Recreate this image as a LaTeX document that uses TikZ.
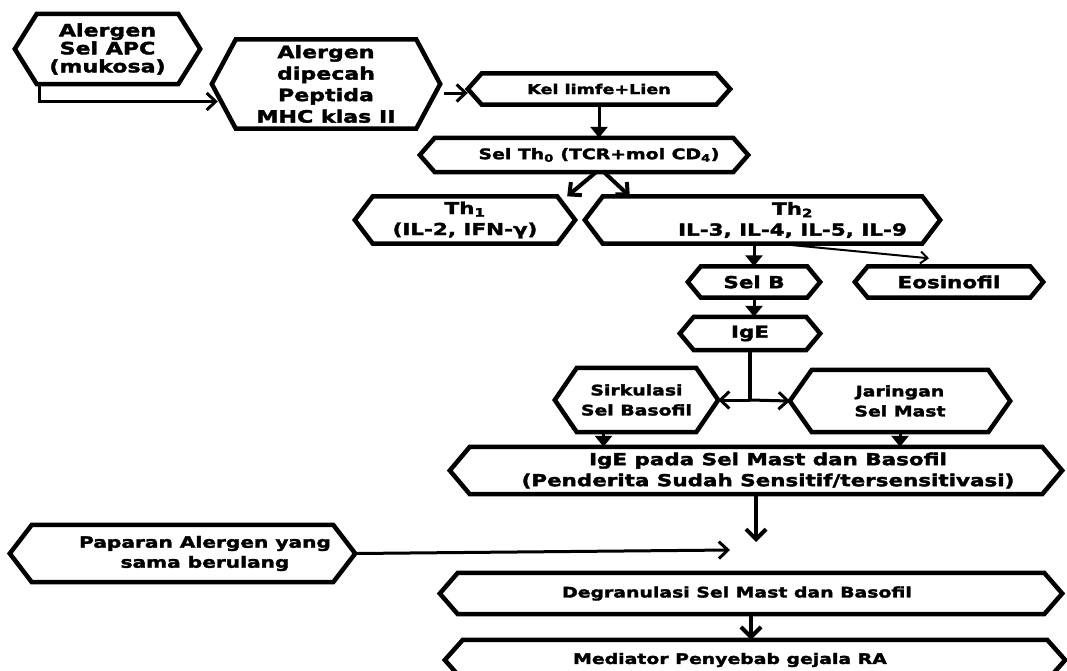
\documentclass[tikz,border=0pt]{standalone}
\usepackage{fontspec}
\setmainfont{DejaVu Sans}[FakeStretch=1.3, BoldFeatures={FakeBold=2.2}]
\usetikzlibrary{arrows.meta,calc}
\tikzset{
  box/.style={draw=none, align=center, inner sep=0pt, font=\fontsize{14.5}{20}\selectfont\bfseries},
  mid/.style={font=\fontsize{16.5}{21}\selectfont\bfseries},
  small/.style={font=\fontsize{13.5}{20}\selectfont\bfseries},
  hexline/.style={line width=4.5pt, line join=miter},
  tri/.style={line width=3pt, -{Triangle[length=11pt,width=17pt]}},
  vee/.style={line width=4pt, -{Straight Barb[length=10pt,width=20pt]}},
  opn/.style={line width=3pt, -{Straight Barb[length=9pt,width=17pt]}},
  thinopn/.style={line width=2pt, -{Straight Barb[length=7pt,width=12pt]}},
}
\newcommand\hexa[2]{\draw[hexline] (#1.west) -- ([xshift=#2pt]#1.north west) -- ([xshift=-#2pt]#1.north east) -- (#1.east) -- ([xshift=-#2pt]#1.south east) -- ([xshift=#2pt]#1.south west) -- cycle;}
\begin{document}
\begin{tikzpicture}[x=1pt,y=-1pt]
\useasboundingbox (0,0) rectangle (1067,670);
\fill[white] (0,0) rectangle (1067,670);
\clip (0,0) rectangle (1067,670);

\node[box, font=\fontsize{17}{18}\selectfont\bfseries, minimum width=185pt, minimum height=70pt] (n1) at (107.5,49) {Alergen\\Sel APC\\(mukosa)};
\node[box, font=\fontsize{17}{21.5}\selectfont\bfseries, minimum width=228pt, minimum height=89pt] (n2) at (326,84) {Alergen\\dipecah\\Peptida\\MHC klas II};
\node[box, small, minimum width=262pt, minimum height=31pt] (n3) at (599,89) {Kel limfe+Lien};
\node[box, minimum width=328pt, minimum height=34pt] (n4) at (584,155) {\hspace*{30pt}Sel Th\textsubscript{0} (TCR+mol CD\textsubscript{4})};
\node[box, mid, minimum width=220pt, minimum height=47pt] (n5) at (465,220) {Th\textsubscript{1}\\(IL-2, IFN-γ)};
\node[box, mid, minimum width=355pt, minimum height=47pt] (n6) at (762.5,220) {\hspace*{60pt}Th\textsubscript{2}\\\hspace*{60pt}IL-3, IL-4, IL-5, IL-9};
\node[box, mid, minimum width=132pt, minimum height=31pt] (n7) at (754,282) {Sel B};
\node[box, mid, minimum width=188pt, minimum height=31pt] (n8) at (949,282) {Eosinofil};
\node[box, mid, minimum width=140pt, minimum height=33pt] (n9) at (750,333.5) {IgE};
\node[box, minimum width=163pt, minimum height=64pt] (n10) at (636.5,400) {Sirkulasi\\Sel Basofil};
\node[box, minimum width=220pt, minimum height=62pt] (n11) at (900,401) {Jaringan\\Sel Mast};
\node[box, mid, minimum width=612pt, minimum height=47pt] (n12) at (756,470.5) {\hspace*{24pt}IgE pada Sel Mast dan Basofil\\\hspace*{24pt}(Penderita Sudah Sensitif/tersensitivasi)};
\node[box, font=\fontsize{15.5}{20}\selectfont\bfseries, minimum width=345pt, minimum height=57pt] (n13) at (182.5,553.5) {\hspace*{45pt}Paparan Alergen yang\\\hspace*{45pt}sama berulang};
\node[box, minimum width=622pt, minimum height=41pt] (n14) at (751,593.5) {Degranulasi Sel Mast dan Basofil\hspace*{28pt}};
\node[box, minimum width=620pt, minimum height=40pt] (n15) at (755,660) {Mediator Penyebab gejala RA\hspace*{50pt}};

\hexa{n1}{22}
\hexa{n2}{24}
\hexa{n3}{14}
\hexa{n4}{15}
\hexa{n5}{18}
\hexa{n6}{18}
\hexa{n7}{13}
\hexa{n8}{13}
\hexa{n9}{14}
\hexa{n10}{22}
\hexa{n11}{22}
\hexa{n12}{20}
\hexa{n13}{22}
\hexa{n14}{18}
\hexa{n15}{18}

\draw[opn] ([xshift=25pt]n1.south west) |- ([xshift=6pt,yshift=-17.5pt]n2.west);
\path (n2.east |- n3.west) coordinate (a23);
\draw[opn] ([xshift=4pt,yshift=-4pt]a23) -- ([yshift=-4pt]n3.west);
\draw[tri] (n3.south) -- (n3.south |- n4.north);
\draw[opn, line width=4pt] ([xshift=12pt]n4.south) -- ([xshift=-8pt]n5.north east);
\draw[opn, line width=4pt] ([xshift=20pt]n4.south) -- ([xshift=45pt]n6.north west);
\draw[tri] (n7.north |- n6.south) -- (n7.north);
\draw[thinopn] ([xshift=15pt]n6.south) -- ([xshift=-20pt,yshift=8pt]n8.north);
\draw[tri] (n7.south) -- (n7.south |- n9.north);
\coordinate (sp) at (n9.south |- n10.east);
\draw[line width=4pt] (n9.south) -- (sp);
\draw[opn] (sp) -- (n10.east);
\draw[opn] (sp) -- (n11.west);
\path ([xshift=-33pt]n10.south) coordinate (a10);
\draw[tri] (a10) -- (a10 |- n12.north);
\draw[tri] (n11.south) -- (n11.south |- n12.north);
\coordinate (j1) at (756,542);
\draw[vee] (n12.south) -- (j1);
\coordinate (j2) at (730,550);
\draw[opn] (n13.east) -- (j2);
\draw[vee] (n14.south) -- (n14.south |- n15.north);
\end{tikzpicture}
\end{document}
